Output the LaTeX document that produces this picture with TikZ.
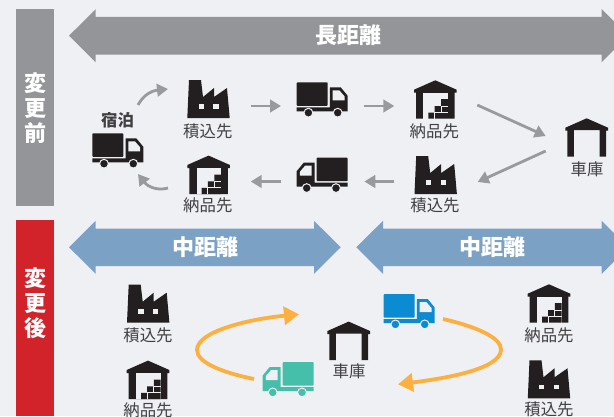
\documentclass[tikz,border=0pt]{standalone}
\usepackage{fontspec}
\setmainfont{Noto Sans CJK JP}
\usetikzlibrary{arrows.meta}
\definecolor{bgc}{HTML}{EFF0F4}
\definecolor{grayc}{HTML}{939598}
\definecolor{redc}{HTML}{D2232A}
\definecolor{bluec}{HTML}{7BA2C4}
\definecolor{inkc}{HTML}{231F20}
\definecolor{txtc}{HTML}{414042}
\definecolor{arrc}{HTML}{999A9D}
\definecolor{orc}{HTML}{FBB040}
\definecolor{trb}{HTML}{0A8BD2}
\definecolor{trt}{HTML}{45BFA9}
\tikzset{
  lbl/.style={text=txtc,font=\fontsize{16.4}{16.4}\selectfont,inner sep=0pt},
  bandtxt/.style={text=white,font=\fontsize{22}{25}\selectfont\bfseries,inner sep=0pt,align=center},
  sidetxt/.style={text=white,font=\fontsize{22}{25}\selectfont\bfseries,inner sep=0pt,align=center},
  grayflow/.style={draw=arrc,line width=2.8pt,-{Triangle[length=11pt,width=12.5pt]}},
  orflow/.style={draw=orc,line width=3.8pt,-{Triangle[length=15pt,width=18pt]}},
}
% double arrow: tip-left x, tip-right x, centre y, colour
\newcommand{\bandarrow}[4]{%
  \fill[#4] (#1,#3) -- (#1+26.7,#3-26.5) -- (#1+26.7,#3-18.8) -- (#2-26.7,#3-18.8) -- (#2-26.7,#3-26.5)
    -- (#2,#3) -- (#2-26.7,#3+26.5) -- (#2-26.7,#3+18.8) -- (#1+26.7,#3+18.8) -- (#1+26.7,#3+26.5) -- cycle;}
\newcommand{\factoryicon}[2]{%
  \begin{scope}[shift={(#1,#2)}]
    \fill[inkc] (-21.2,0) -- (-19.5,-38) -- (-7.5,-38) -- (-5.5,-21) -- (5.5,-30) -- (5.5,-21) -- (18.5,-30) -- (21.2,0) -- cycle;
    \fill[bgc] (-9.8,-13.8) rectangle (-4.6,-9);
    \fill[bgc] (4.8,-13.8) rectangle (10,-9);
  \end{scope}}
\newcommand{\garageicon}[2]{%
  \begin{scope}[shift={(#1,#2)}]
    \fill[inkc] (0,-38.4) -- (21.3,-29) -- (21.3,-26) -- (19.3,-26) -- (19.3,0) -- (12.8,0) -- (12.8,-26.5)
      -- (-12.8,-26.5) -- (-12.8,0) -- (-19.3,0) -- (-19.3,-26) -- (-21.3,-26) -- (-21.3,-29) -- cycle;
  \end{scope}}
\newcommand{\wareicon}[2]{%
  \begin{scope}[shift={(#1,#2)}]
    \fill[inkc] (0,-38.4) -- (21.3,-29) -- (21.3,-26) -- (19.3,-26) -- (19.3,0) -- (-19.3,0) -- (-19.3,-26) -- (-21.3,-26) -- (-21.3,-29) -- cycle;
    \fill[bgc] (-12,-26.2) rectangle (12.5,0);
    \fill[inkc] (-7,0) -- (-7,-6.2) -- (-0.8,-6.2) -- (-0.8,-12.7) -- (5.8,-12.7) -- (5.8,-19.5) -- (12.5,-19.5) -- (12.5,0) -- cycle;
    \draw[bgc,line width=0.8pt] (-0.8,0) -- (-0.8,-6.2) -- (12.5,-6.2) (5.8,-6.2) -- (5.8,-12.7) -- (12.5,-12.7);
  \end{scope}}
% truck: left x, top y, xscale, colour
\newcommand{\truckicon}[4]{%
  \begin{scope}[shift={(#1,#2)},xscale=#3]
    \fill[#4,rounded corners=0.8pt] (0,0) rectangle (31,23.5);
    \fill[#4] (0,25) -- (33.2,25) -- (33.2,5) -- (44,5) -- (51,13.5) -- (51,29) -- (0,29) -- cycle;
    \fill[bgc] (36,8) -- (42.6,8) -- (47.8,14) -- (47.8,18) -- (36,18) -- cycle;
    \foreach \wx in {11.7,41}{\fill[#4,draw=bgc,line width=1pt] (\wx,30.4) circle (4.4);}
  \end{scope}}
\begin{document}
\begin{tikzpicture}[x=1pt,y=-1pt]
\useasboundingbox (0,0) rectangle (614,416);
\clip (0,0) rectangle (614,416);
\fill[bgc] (0,0) rectangle (614,416);
% side bars
\fill[grayc] (16,9) rectangle (54,206);
\fill[redc] (16,220) rectangle (54,416);
\node[sidetxt] (before) at (35,108.5) {変\\更\\前};
\node[sidetxt] (after) at (35,303) {変\\更\\後};
% bands
\bandarrow{69}{628.4}{35.7}{grayc}
\bandarrow{69}{340.7}{247.3}{bluec}
\bandarrow{356.3}{628.4}{247.3}{bluec}
\node[bandtxt] (long) at (348.5,35.5) {長距離};
\node[bandtxt] (midl) at (205,247.5) {中距離};
\node[bandtxt] (midr) at (492,247.5) {中距離};
% icons
\factoryicon{208.5}{118}
\factoryicon{435.7}{194}
\factoryicon{148.2}{322.7}
\factoryicon{549}{398.3}
\wareicon{435.3}{118.7}
\wareicon{208.6}{194}
\wareicon{148}{399}
\wareicon{549}{322.7}
\garageicon{586.7}{156.7}
\garageicon{348.7}{360}
\truckicon{92.3}{133.3}{1}{inkc}
\truckicon{296.7}{82.3}{1}{inkc}
\truckicon{347.7}{157.7}{-1}{inkc}
\truckicon{383.7}{294}{1}{trb}
\truckicon{313.7}{362}{-1}{trt}
% labels
\node[lbl] (l1) at (207.8,131.5) {積込先};
\node[lbl] (l2) at (434.3,131.5) {納品先};
\node[lbl] (l3) at (207.8,205.5) {納品先};
\node[lbl] (l4) at (435,205.5) {積込先};
\node[lbl] (l5) at (587,169) {車庫};
\node[text=txtc,inner sep=0pt,font=\fontsize{16.4}{16.4}\selectfont\bfseries] (l6) at (117.5,120.5) {宿泊};
\node[lbl] (l7) at (148,335) {積込先};
\node[lbl] (l8) at (148,410.5) {納品先};
\node[lbl] (l9) at (549,335) {納品先};
\node[lbl] (l10) at (549,409.5) {積込先};
\node[lbl] (l11) at (349,371.5) {車庫};
% flow ends
\coordinate (a1) at (138,105);   \coordinate (a2) at (168,89);
\coordinate (b1) at (250.7,106); \coordinate (b2) at (281,106);
\coordinate (c1) at (364,106);   \coordinate (c2) at (394.3,106);
\coordinate (d1) at (477.3,105); \coordinate (d2) at (545.7,136);
\coordinate (e1) at (545.7,151); \coordinate (e2) at (477.7,182);
\coordinate (f1) at (394.3,181.5); \coordinate (f2) at (364.3,181.5);
\coordinate (g1) at (281,181.5); \coordinate (g2) at (250.7,181.5);
\coordinate (h1) at (168,188);   \coordinate (h2) at (138,174);
\coordinate (i1) at (254,379);   \coordinate (i2) at (299,314.3);
\coordinate (j1) at (443,319);   \coordinate (j2) at (398,384.3);
% grey flows
\draw[grayflow] (a1) .. controls (143,96) and (150,91) .. (a2);
\draw[grayflow] (b1) -- (b2);
\draw[grayflow] (c1) -- (c2);
\draw[grayflow] (d1) -- (d2);
\draw[grayflow] (e1) -- (e2);
\draw[grayflow] (f1) -- (f2);
\draw[grayflow] (g1) -- (g2);
\draw[grayflow] (h1) .. controls (158,191) and (148,187) .. (h2);
% orange flows
\draw[orflow] (i1) .. controls (220,372) and (197,362) .. (197,350) .. controls (197,331) and (250,319) .. (i2);
\draw[orflow] (j1) .. controls (478,327) and (501,338) .. (501,349.5) .. controls (501,370) and (440,379) .. (j2);
\end{tikzpicture}
\end{document}
